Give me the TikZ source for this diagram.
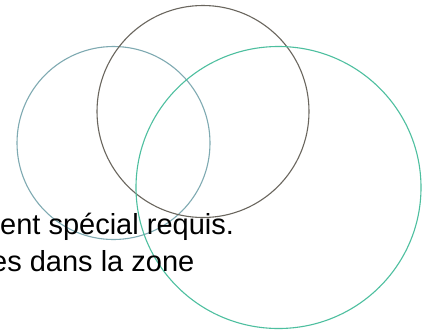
\documentclass[tikz,border=0pt]{standalone}
\usepackage{fontspec}
\setmainfont{Liberation Sans}
\definecolor{cleft}{HTML}{7FAAB2}
\definecolor{cmid}{HTML}{6A665E}
\definecolor{cright}{HTML}{4DBF9F}
\begin{document}
\begin{tikzpicture}[x=1pt,y=-1pt,
  ring/.style={draw, line width=1.1pt},
  txt/.style={anchor=base west, inner sep=0pt, font=\fontsize{29}{34}\selectfont}]
\useasboundingbox (0,0) rectangle (430,335);
\fill[white] (0,0) rectangle (430,335);
\draw[ring, cleft] (113.5,143) circle[radius=96.5];
\draw[ring, cmid] (203,111.5) circle[radius=106];
\draw[ring, cright] (278.5,187.5) ellipse[x radius=142.5, y radius=141];
\node[txt] (l1) at (0,234) {ent spécial requis.};
\node[txt] (l2) at (-9,271) {es dans la zone};
\end{tikzpicture}
\end{document}
